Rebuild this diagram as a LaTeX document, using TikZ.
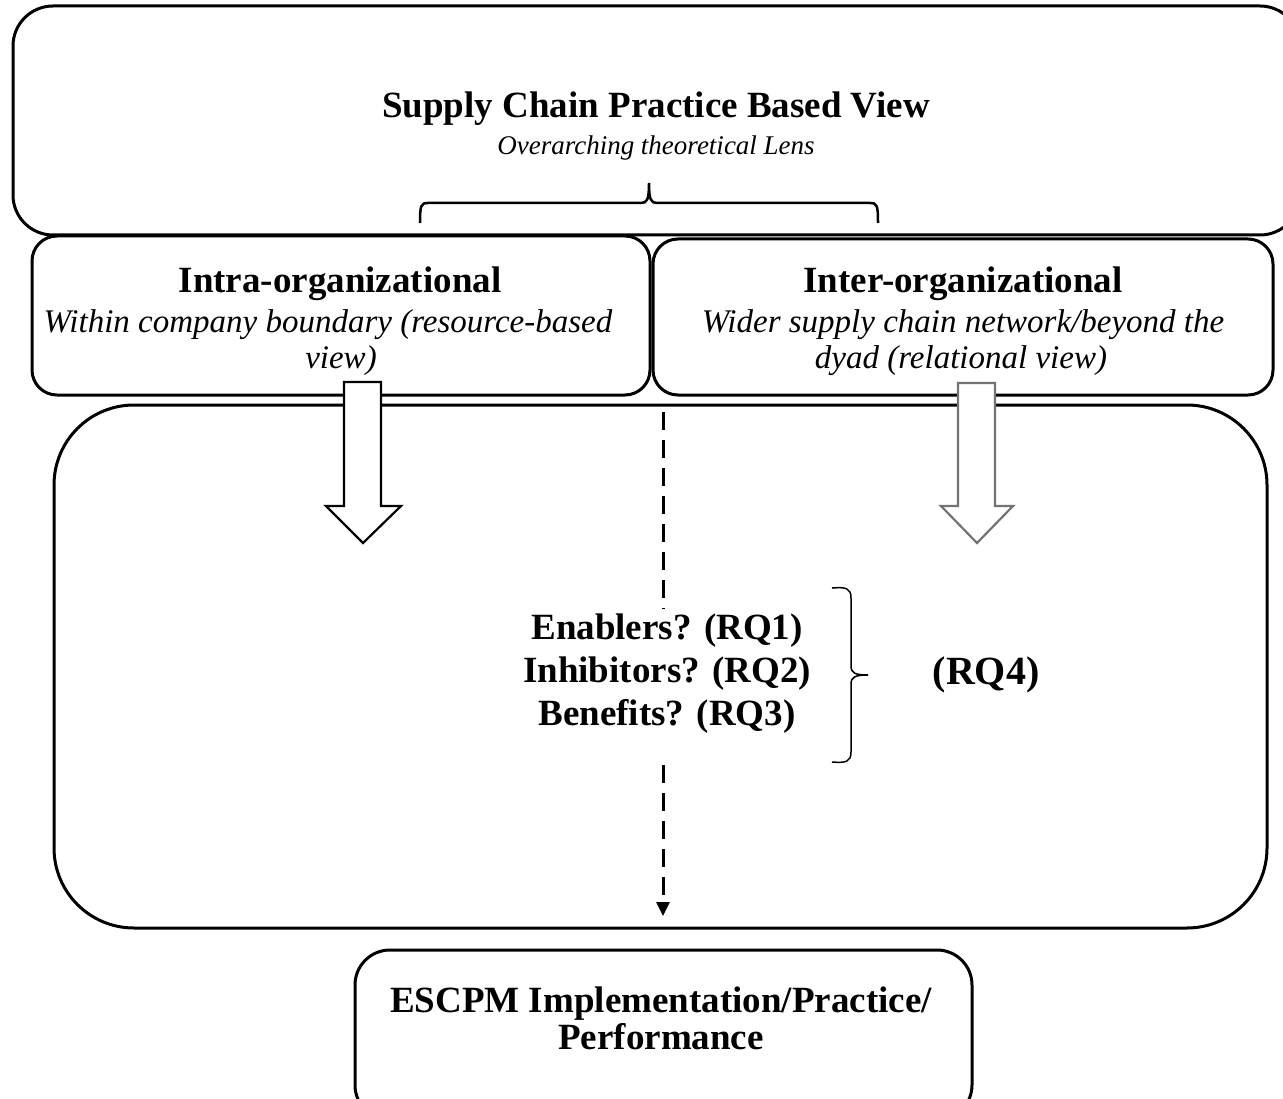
\documentclass[tikz,border=0pt]{standalone}
\usepackage{fontspec}
\setmainfont{Liberation Serif}
\usetikzlibrary{arrows.meta}

\tikzset{
  box/.style={draw, line width=3pt, inner sep=0pt},
  headtext/.style={font=\bfseries\fontsize{37}{43}\selectfont, anchor=base, inner sep=0pt},
  subtext/.style={font=\itshape\fontsize{27}{36}\selectfont, anchor=base, inner sep=0pt},
  boxsubtext/.style={subtext, font=\itshape\fontsize{33}{38}\selectfont},
  blockarrow/.style={draw, fill=white, line width=2.2pt, line join=miter},
  dashline/.style={line width=3pt, dash pattern=on 18pt off 10pt},
}

\begin{document}
\begin{tikzpicture}[x=1pt,y=-1pt]

        \useasboundingbox (0,0) rectangle (1283,1099);
        \clip (0,0) rectangle (1283,1099);

        % boxes
        \node[box,rounded corners=40pt,minimum width=1287pt,minimum height=229pt] (lensbox) at (656.5,120.5) {};
        \node[box,rounded corners=25pt,minimum width=618pt,minimum height=159pt] (intrabox) at (341,315.5) {};
        \node[box,rounded corners=25pt,minimum width=620pt,minimum height=156pt] (interbox) at (963,317) {};
        \node[box,rounded corners=80pt,minimum width=1213pt,minimum height=523pt] (corebox) at (660.5,666.5) {};
        \node[box,rounded corners=35pt,minimum width=617pt,minimum height=170pt] (outcomebox) at (663.5,1035) {};

        % texts
        \node[headtext] (lenstitle) at (656,118) {Supply Chain Practice Based View};
        \node[subtext] (lenssub) at (656,155) {Overarching theoretical Lens};

        \node[headtext] (intratitle) at (340,293) {Intra-organizational};
        \node[boxsubtext] (intrasub1) at (328,333) {Within company boundary (resource-based};
        \node[boxsubtext] (intrasub2) at (341,369) {view)};

        \node[headtext] (intertitle) at (963,293) {Inter-organizational};
        \node[boxsubtext] (intersub1) at (963,333) {Wider supply chain network/beyond the};
        \node[boxsubtext] (intersub2) at (961,369) {dyad (relational view)};

        % top brace
        \draw[line width=2.5pt] (420,223) .. controls (420,205) and (421,203) .. (428,203) -- (641,203)
            .. controls (647,203) and (649,200) .. (649,183) .. controls (649,200) and (651,203) .. (657,203)
            -- (870,203) .. controls (877,203) and (878,205) .. (878,223);

        % block arrows
        \draw[blockarrow] (344,382) -- (381,382) -- (381,506) -- (401,506) -- (363,543) -- (326,506) -- (344,506) -- cycle;
        \draw[blockarrow,draw=black!55] (958,383) -- (995,383) -- (995,506) -- (1013,506) -- (977,543) -- (941,506) -- (958,506) -- cycle;

        \node[headtext,anchor=center,inner sep=6pt,align=center] (rqlist) at (667,674)
            {Enablers? (RQ1)\\ Inhibitors? (RQ2)\\ Benefits? (RQ3)};

        % dashed arrow
        \coordinate (dashtop) at (663,412);
        \coordinate (dashresume) at (663,765);
        \coordinate (dashend) at (663,916);
        \draw[dashline] (dashtop) -- (dashtop |- rqlist.north);
        \draw[dashline, -{Triangle[width=13pt,length=14pt]}] (dashresume) -- (dashend);

        % right brace
        \draw[line width=1.5pt] (832,588) .. controls (846,587) and (851,588) .. (851,598) -- (851,666)
            .. controls (851,673) and (855,675) .. (868,675) .. controls (855,675) and (851,677) .. (851,684)
            -- (851,752) .. controls (851,762) and (846,763) .. (832,762);

        \node[headtext,font=\bfseries\fontsize{40}{46}\selectfont] (rqfour) at (986,684) {(RQ4)};

        \node[headtext] (outcome1) at (661,1012) {ESCPM Implementation/Practice/};
        \node[headtext] (outcome2) at (661,1049) {Performance};

\end{tikzpicture}
\end{document}
